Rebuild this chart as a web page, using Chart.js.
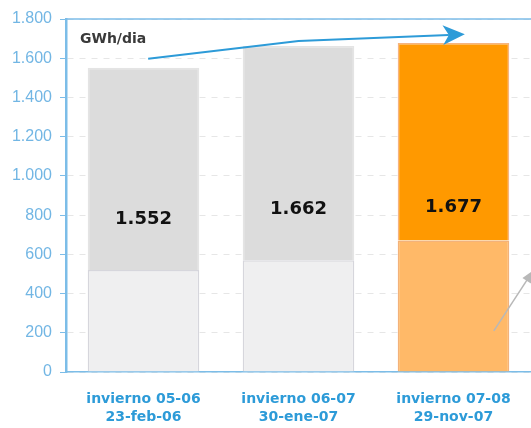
<!DOCTYPE html>
<html lang="es">
<head>
    <meta charset="UTF-8">
    <title>Demanda punta GWh/dia</title>
    <script src="https://cdn.jsdelivr.net/npm/chart.js"></script>
    <style>
        html, body { margin: 0; padding: 0; background: #ffffff; }
        #wrap { width: 531px; height: 428px; }
    </style>
</head>
<body>
    <div id="wrap"><canvas id="demandChart"></canvas></div>
    <script>
        // Data
        const categories = [['invierno 05-06', '23-feb-06'], ['invierno 06-07', '30-ene-07'], ['invierno 07-08', '29-nov-07']];
        const totals = [1552, 1662, 1677];
        const baseValues = [520, 570, 670];
        const topValues = totals.map((t, i) => t - baseValues[i]);
        const yTicks = [0, 200, 400, 600, 800, 1000, 1200, 1400, 1600, 1800];
        const unitLabel = 'GWh/dia';

        const blue = '#2d9bd8';
        const axisBlue = '#7cbde8';

        // thousands with a dot, as in the original
        function fmt(v) {
            return String(v).replace(/\B(?=(\d{3})+(?!\d))/g, '.');
        }

        // labels, frame line and arrows
        const extras = {
            id: 'extras',
            afterDatasetsDraw(chart) {
                const c = chart.ctx;
                const x = chart.scales.x, y = chart.scales.y;
                const area = chart.chartArea;
                c.save();

                // top frame line
                c.strokeStyle = axisBlue;
                c.lineWidth = 1.5;
                c.beginPath();
                c.moveTo(area.left, y.getPixelForValue(1800));
                c.lineTo(chart.width, y.getPixelForValue(1800));
                c.stroke();

                // totals
                c.font = 'bold 18px "DejaVu Sans", Verdana, sans-serif';
                c.fillStyle = '#111111';
                c.textAlign = 'center';
                c.textBaseline = 'middle';
                totals.forEach((t, i) => {
                    c.fillText(fmt(t), x.getPixelForValue(i), y.getPixelForValue(t / 2));
                });

                // unit
                c.font = 'bold 14px "DejaVu Sans", Verdana, sans-serif';
                c.fillStyle = '#3a3a3a';
                c.textAlign = 'left';
                c.fillText(unitLabel, x.getPixelForValue(-0.41), y.getPixelForValue(1695));

                // blue trend arrow
                const p0 = [x.getPixelForValue(0.03), y.getPixelForValue(1597)];
                const p1 = [x.getPixelForValue(1.0), y.getPixelForValue(1688)];
                const p2 = [x.getPixelForValue(1.97), y.getPixelForValue(1718)];
                c.strokeStyle = blue;
                c.lineWidth = 2;
                c.beginPath();
                c.moveTo(p0[0], p0[1]);
                c.lineTo(p1[0], p1[1]);
                c.lineTo(p2[0], p2[1]);
                c.stroke();
                const ang = Math.atan2(p2[1] - p1[1], p2[0] - p1[0]);
                c.save();
                c.translate(p2[0] + 8, p2[1] - 0.5);
                c.rotate(ang);
                c.fillStyle = blue;
                c.beginPath();
                c.moveTo(8, 0);
                c.lineTo(-14, -10);
                c.lineTo(-8, 0);
                c.lineTo(-14, 10);
                c.closePath();
                c.fill();
                c.restore();

                // grey arrow cut at the right edge
                const g0 = [x.getPixelForValue(2.26), y.getPixelForValue(210)];
                const g1 = [x.getPixelForValue(2.5), y.getPixelForValue(500)];
                c.strokeStyle = '#b8b8b8';
                c.lineWidth = 1.5;
                c.beginPath();
                c.moveTo(g0[0], g0[1]);
                c.lineTo(g1[0], g1[1]);
                c.stroke();
                c.save();
                c.translate(g1[0], g1[1]);
                c.rotate(Math.atan2(g1[1] - g0[1], g1[0] - g0[0]));
                c.fillStyle = '#b8b8b8';
                c.beginPath();
                c.moveTo(4, 0);
                c.lineTo(-8, -5);
                c.lineTo(-8, 5);
                c.closePath();
                c.fill();
                c.restore();

                c.restore();
            }
        };

        const ctx = document.getElementById('demandChart').getContext('2d');
        new Chart(ctx, {
            type: 'bar',
            data: {
                labels: categories,
                datasets: [{
                    label: 'base',
                    data: baseValues,
                    backgroundColor: ['#efeff0', '#efeff0', '#ffb968'],
                    borderColor: ['#d6d6dc', '#d6d6dc', '#f3b27a'],
                    borderWidth: 1.5,
                    barPercentage: 0.72,
                    categoryPercentage: 1
                }, {
                    label: 'punta',
                    data: topValues,
                    backgroundColor: ['#dcdcdc', '#dcdcdc', '#ff9900'],
                    borderColor: ['#e4e4e4', '#e4e4e4', '#f6b480'],
                    borderWidth: 1.5,
                    barPercentage: 0.72,
                    categoryPercentage: 1
                }]
            },
            options: {
                responsive: true,
                maintainAspectRatio: false,
                animation: false,
                layout: { padding: { top: 19, right: 0, left: 0, bottom: 0 } },
                plugins: {
                    legend: { display: false },
                    tooltip: { enabled: false }
                },
                scales: {
                    x: {
                        stacked: true,
                        grid: { display: false, drawTicks: false },
                        border: { color: axisBlue, width: 1.5 },
                        ticks: {
                            color: blue,
                            font: { family: '"DejaVu Sans", Verdana, sans-serif', size: 14, weight: 'bold', lineHeight: 1.3 },
                            padding: 18
                        },
                        afterFit(scale) { scale.height = 56; }
                    },
                    y: {
                        stacked: true,
                        min: 0,
                        max: 1800,
                        afterBuildTicks(scale) { scale.ticks = yTicks.map(v => ({ value: v })); },
                        grid: {
                            color: '#e6e6e6',
                            tickColor: axisBlue,
                            tickLength: 6,
                            drawOnChartArea: true
                        },
                        border: { color: axisBlue, width: 2.5, dash: [6, 6] },
                        ticks: {
                            color: '#72b6e4',
                            font: { family: '"Liberation Sans", Arial, sans-serif', size: 16 },
                            padding: 8,
                            callback: v => fmt(v)
                        },
                        afterFit(scale) { scale.width = 66; }
                    }
                }
            },
            plugins: [extras]
        });
    </script>
</body>
</html>
